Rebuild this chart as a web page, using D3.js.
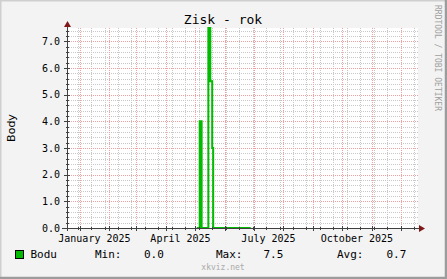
<!DOCTYPE html>
<html>
<head>
<meta charset="utf-8">
<script src="https://cdn.jsdelivr.net/npm/d3@7"></script>
<style>
  html, body { margin: 0; padding: 0; background: #f3f3f3; }
  svg { display: block; }
</style>
</head>
<body>
<svg id="chart"></svg>
<script>
// step boundaries (UTC days) and the value held between each pair of boundaries
const stepDates = ["2025-05-03", "2025-05-06", "2025-05-08", "2025-05-15", "2025-05-17", "2025-05-19", "2025-05-20", "2025-06-28"];
const stepValues = [0, 4.0, 0, 7.5, 5.5, 3.0, 0];
const yTicks = [0, 1, 2, 3, 4, 5, 6, 7];
const labelMonths = ["2025-01-01", "2025-04-01", "2025-07-01", "2025-10-01"];

const W = 447, H = 279;
let margin = {left: 67, right: 29, top: 28, bottom: 51};
let x0 = margin.left, x1 = W - margin.right;
let y0 = H - margin.bottom, y1 = margin.top;

let parse = d3.utcParse('%Y-%m-%d');
let tStart = new Date(Date.UTC(2024, 11, 19));
let tEnd = new Date(Date.UTC(2025, 11, 19));

let xScale = d3.scaleUtc().domain([tStart, tEnd]).range([x0, x1]);
let yScale = d3.scaleLinear().domain([0, 7.5]).range([y0, y1]);

let svg = d3.select('#chart').attr('width', W).attr('height', H);
const mono = "'DejaVu Sans Mono', monospace";

// frame
svg.append('rect').attr('width', W).attr('height', H).attr('fill', '#f3f3f3');
svg.append('rect').attr('x', x0).attr('y', y1).attr('width', x1 - x0).attr('height', y0 - y1).attr('fill', '#ffffff');
svg.append('path').attr('d', `M0.5,${H}V0.5H${W}`).attr('stroke', '#cfcfcf').attr('stroke-width', 2).attr('fill', 'none');
svg.append('path').attr('d', `M0,${H - 1}H${W - 1}V0`).attr('stroke', '#9c9c9c').attr('stroke-width', 2.5).attr('fill', 'none');

let grid = svg.append('g').attr('shape-rendering', 'crispEdges');

// minor grid
let minorX = d3.utcDay.range(new Date(Date.UTC(2024, 11, 16)), tEnd, 14).filter(d => d > tStart);
let minorY = d3.range(0, 7.5001, 0.2);
grid.selectAll('.mx').data(minorX).enter().append('line')
    .attr('x1', d => Math.round(xScale(d)) + 0.5).attr('x2', d => Math.round(xScale(d)) + 0.5)
    .attr('y1', y1).attr('y2', y0)
    .attr('stroke', '#c8c8c8').attr('stroke-dasharray', '1,1');
grid.selectAll('.my').data(minorY).enter().append('line')
    .attr('x1', x0).attr('x2', x1)
    .attr('y1', d => Math.round(yScale(d)) + 0.5).attr('y2', d => Math.round(yScale(d)) + 0.5)
    .attr('stroke', '#c8c8c8').attr('stroke-dasharray', '1,1');

// major grid
let majorX = d3.utcMonth.range(tStart, tEnd);
grid.selectAll('.Mx').data(majorX).enter().append('line')
    .attr('x1', d => Math.round(xScale(d)) + 0.5).attr('x2', d => Math.round(xScale(d)) + 0.5)
    .attr('y1', y1).attr('y2', y0)
    .attr('stroke', '#f0a0a0').attr('stroke-dasharray', '1,1');
grid.selectAll('.My').data(yTicks).enter().append('line')
    .attr('x1', x0).attr('x2', x1)
    .attr('y1', d => Math.round(yScale(d)) + 0.5).attr('y2', d => Math.round(yScale(d)) + 0.5)
    .attr('stroke', '#f0a0a0').attr('stroke-dasharray', '1,1');

// data line
let points = stepDates.map((d, i) => ({t: parse(d), v: stepValues[Math.min(i, stepValues.length - 1)]}));
let line = d3.line()
    .x(d => xScale(d.t))
    .y(d => yScale(d.v))
    .curve(d3.curveStepAfter);
svg.append('path').datum(points)
    .attr('d', line)
    .attr('fill', 'none')
    .attr('stroke', '#00bb00')
    .attr('stroke-width', 2);

// axes
let ax = svg.append('g').attr('shape-rendering', 'crispEdges').attr('stroke', '#404040');
let yz = Math.round(y0) + 0.5, xz = Math.round(x0) + 0.5;
ax.append('line').attr('x1', x0 - 5).attr('x2', x1 + 2).attr('y1', yz).attr('y2', yz);
ax.append('line').attr('x1', xz).attr('x2', xz).attr('y1', y0 + 3).attr('y2', y1 - 5);
ax.selectAll('.ty').data(yTicks).enter().append('line')
    .attr('x1', x0 - 3).attr('x2', x0 + 3)
    .attr('y1', d => Math.round(yScale(d)) + 0.5).attr('y2', d => Math.round(yScale(d)) + 0.5);
ax.selectAll('.tmy').data(minorY).enter().append('line')
    .attr('x1', x0 - 1).attr('x2', x0 + 2)
    .attr('y1', d => Math.round(yScale(d)) + 0.5).attr('y2', d => Math.round(yScale(d)) + 0.5);
ax.selectAll('.tx').data(majorX).enter().append('line')
    .attr('x1', d => Math.round(xScale(d)) + 0.5).attr('x2', d => Math.round(xScale(d)) + 0.5)
    .attr('y1', y0 - 2).attr('y2', y0 + 3);
ax.selectAll('.tmx').data(minorX).enter().append('line')
    .attr('x1', d => Math.round(xScale(d)) + 0.5).attr('x2', d => Math.round(xScale(d)) + 0.5)
    .attr('y1', y0 - 1).attr('y2', y0 + 2);

// arrows
svg.append('path').attr('d', `M${xz - 3.5},${y1 - 1}L${xz},${y1 - 7}L${xz + 3.5},${y1 - 1}Z`).attr('fill', '#7f1818');
svg.append('path').attr('d', `M${x1 + 1},${yz - 3.5}L${x1 + 7},${yz}L${x1 + 1},${yz + 3.5}Z`).attr('fill', '#7f1818');

// y labels
svg.selectAll('.yl').data(yTicks).enter().append('text')
    .attr('x', x0 - 7).attr('y', d => yScale(d) + 3.5)
    .attr('text-anchor', 'end')
    .style('font-family', mono).style('font-size', '10px').attr('fill', '#000')
    .text(d => d3.format('.1f')(d));

// x labels, centered on the month
let monthFmt = d3.utcFormat('%B %Y');
svg.selectAll('.xl').data(labelMonths.map(parse)).enter().append('text')
    .attr('x', d => (xScale(d) + xScale(d3.utcMonth.offset(d, 1))) / 2)
    .attr('y', y0 + 14)
    .attr('text-anchor', 'middle')
    .style('font-family', mono).style('font-size', '10px').attr('fill', '#000')
    .text(d => monthFmt(d));

// title and axis title
svg.append('text').attr('x', 223).attr('y', 24).attr('text-anchor', 'middle')
    .style('font-family', mono).style('font-size', '13px').text('Zisk - rok');
svg.append('text').attr('transform', `translate(15,${(y0 + y1) / 2}) rotate(-90)`)
    .attr('text-anchor', 'middle')
    .style('font-family', "'DejaVu Sans', sans-serif").style('font-size', '11px').text('Body');

// side credit
svg.append('text').attr('transform', 'translate(435,5) rotate(90)')
    .style('font-family', mono).style('font-size', '8px').attr('fill', '#a0a0a0')
    .text('RRDTOOL / TOBI OETIKER');

// legend with stats from the data (duration weighted average)
let dur = stepValues.map((v, i) => (parse(stepDates[i + 1]) - parse(stepDates[i])));
let avg = d3.sum(stepValues, (v, i) => v * dur[i]) / d3.sum(dur);
let fmt = d3.format('.1f');
let ly = 258;
svg.append('rect').attr('x', 15.5).attr('y', 250.5).attr('width', 8).attr('height', 8)
    .attr('fill', '#00bb00').attr('stroke', '#000').attr('stroke-width', 1);
let legendItems = [
    {x: 30.5, t: 'Bodu'},
    {x: 95, t: 'Min:'}, {x: 144, t: fmt(d3.min(stepValues))},
    {x: 216, t: 'Max:'}, {x: 263.5, t: fmt(d3.max(stepValues))},
    {x: 337, t: 'Avg:'}, {x: 386.5, t: fmt(avg)}
];
svg.selectAll('.lg').data(legendItems).enter().append('text')
    .attr('x', d => d.x).attr('y', ly)
    .style('font-family', mono).style('font-size', '11px').attr('fill', '#000')
    .text(d => d.t);

svg.append('text').attr('x', 223).attr('y', 270).attr('text-anchor', 'middle')
    .style('font-family', mono).style('font-size', '8px').attr('fill', '#aaaaaa')
    .text('xkviz.net');
</script>
</body>
</html>
